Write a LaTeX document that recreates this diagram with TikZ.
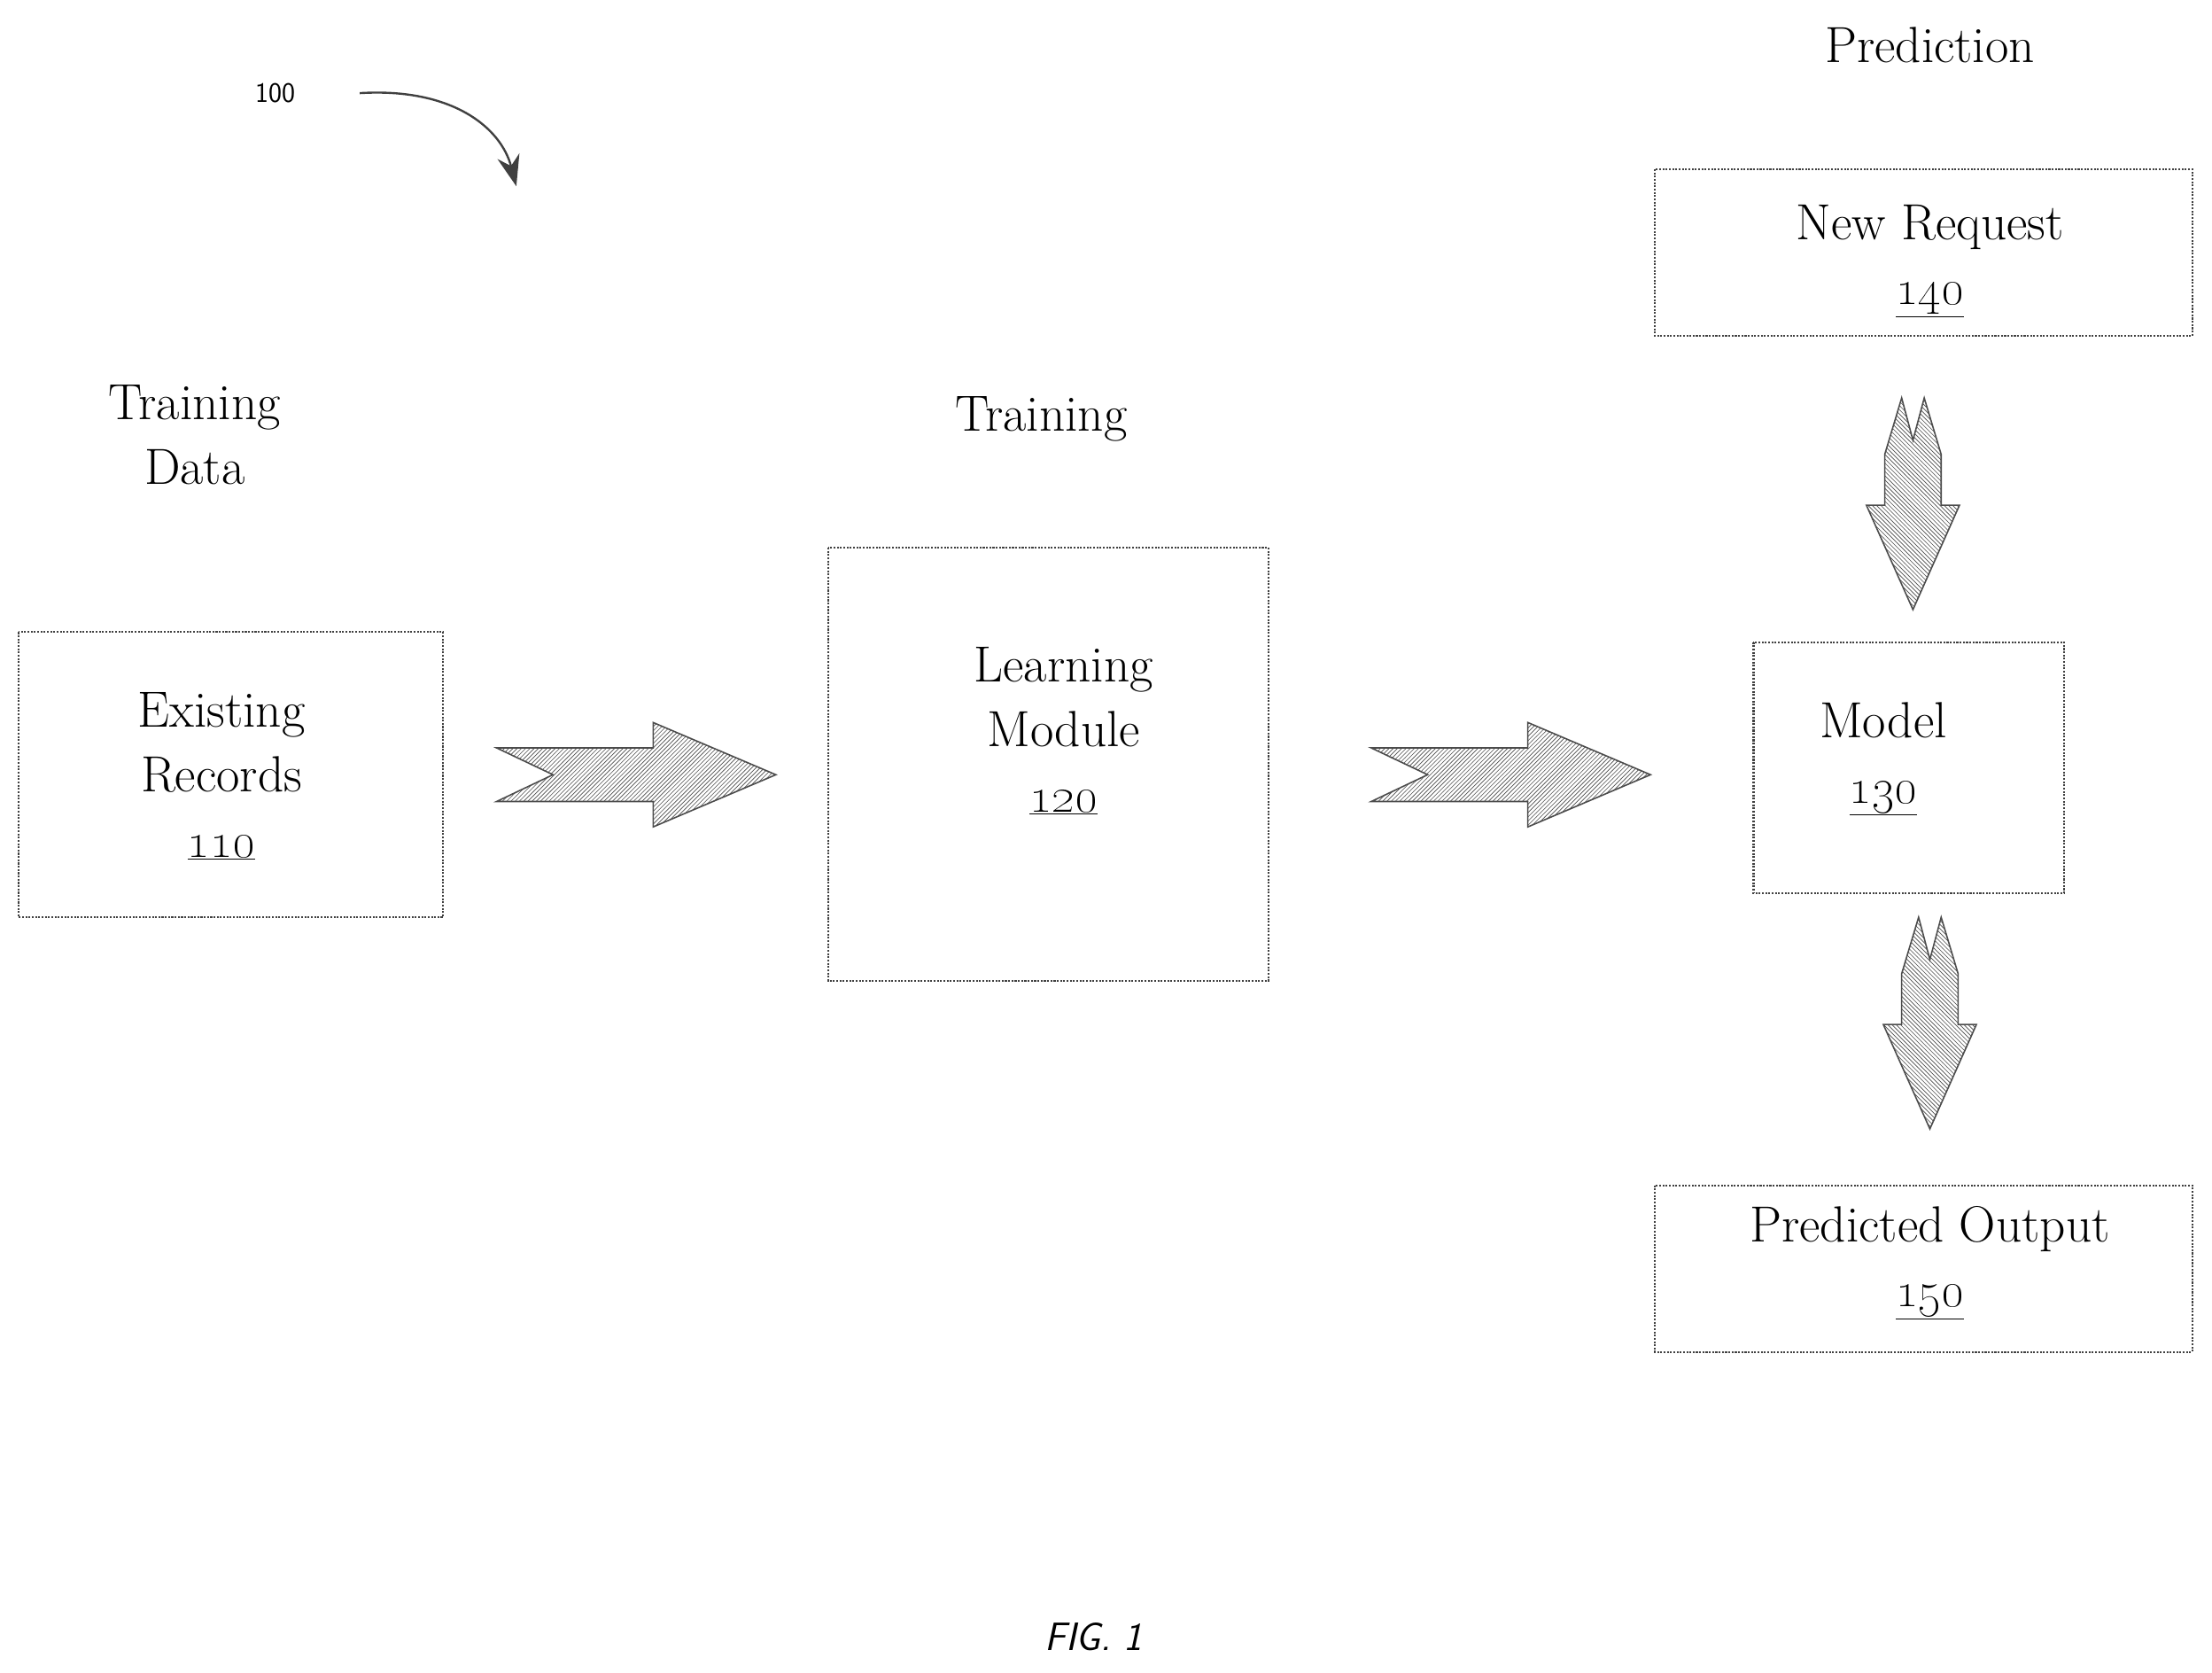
\documentclass[tikz,border=0pt]{standalone}
\usetikzlibrary{patterns,arrows.meta}
\begin{document}
\begin{tikzpicture}[x=1pt,y=-1pt,
  box/.style={draw=black!75,line width=1.3pt,densely dotted},
  lbl/.style={font=\fontsize{36}{46}\selectfont,align=center},
  blk/.style={draw=black!70,line width=1pt,fill=gray!45,pattern color=black!70}]
\useasboundingbox (0,0) rectangle (1568,1185);
\draw[box] (13,448) rectangle (314,650);
\draw[box] (587,388) rectangle (899,695);
\draw[box] (1243,455) rectangle (1463,633);
\draw[box] (1173,120) rectangle (1554,238);
\draw[box] (1173,840) rectangle (1554,958);
\node[lbl] (er) at (157,550) {Existing\\Records\\\underline{\oldstylenums{110}}};
\node[lbl] (lm) at (754,518) {Learning\\Module\\\underline{\oldstylenums{120}}};
\node[lbl] (mo) at (1335,538) {Model\\\underline{\oldstylenums{130}}};
\node[lbl] (nr) at (1368,185) {New Request\\\underline{\oldstylenums{140}}};
\node[lbl] (po) at (1368,895) {Predicted Output\\\underline{\oldstylenums{150}}};
\node[lbl] (td) at (138,308) {Training\\Data};
\node[lbl] (tr) at (738,297) {Training};
\node[lbl] (pr) at (1368,32) {Prediction};
\node[font=\sffamily\fontsize{20}{24}\selectfont] (n100) at (195,66) {100};
\node[font=\sffamily\itshape\fontsize{28}{32}\selectfont] (fig) at (775,1160) {FIG. 1};
\coordinate (c0) at (255,66); \coordinate (c1) at (366,132);
\draw[black!75,line width=1.5pt,-{Stealth[length=22pt,width=16pt]}] (c0) .. controls (320,62) and (355,90) .. (c1);
% horizontal block arrows
\foreach \x in {352,972}{
 \filldraw[blk,pattern=north east lines] (\x,530) -- (\x+111,530) -- (\x+111,512) -- (\x+198,549) -- (\x+111,586) -- (\x+111,568) -- (\x,568) -- (\x+40,549) -- cycle;
}
% vertical block arrows
\foreach \cx/\y in {1356/282,1368/650}{
 \filldraw[blk,pattern=north west lines] (\cx-20,\y+40) -- (\cx-8,\y) -- (\cx,\y+30) -- (\cx+8,\y) -- (\cx+20,\y+40) -- (\cx+20,\y+76) -- (\cx+33,\y+76) -- (\cx,\y+150) -- (\cx-33,\y+76) -- (\cx-20,\y+76) -- cycle;
}
\end{tikzpicture}
\end{document}
